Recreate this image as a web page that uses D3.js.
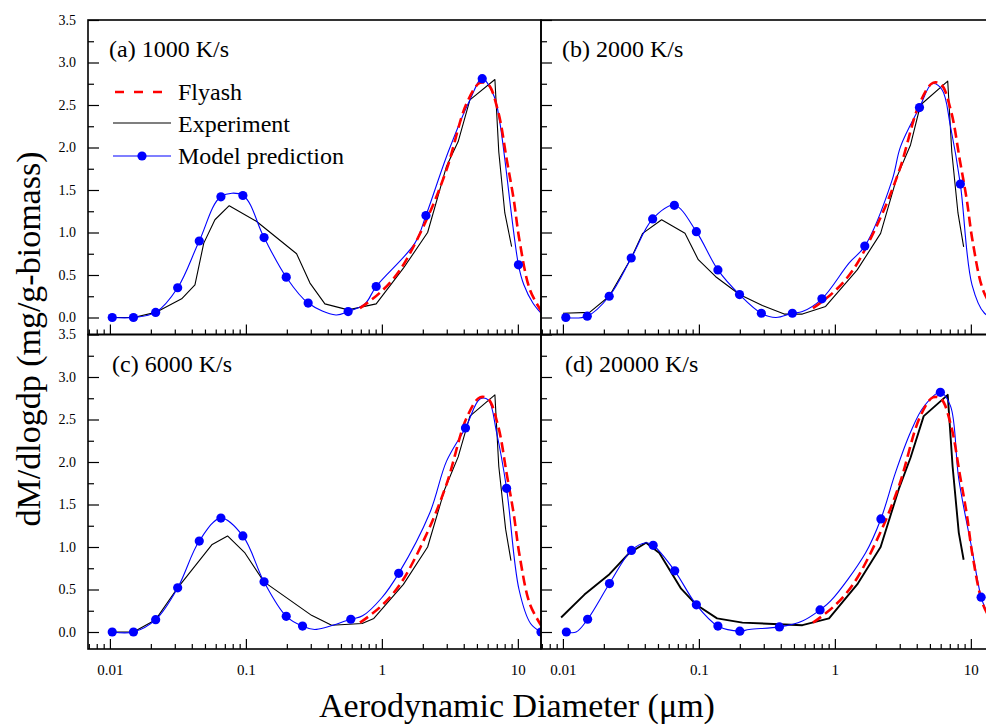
<!DOCTYPE html>
<html><head><meta charset="utf-8">
<script src="https://cdn.jsdelivr.net/npm/d3@7"></script>
<style>
body{margin:0;background:#fff;}
svg{display:block;}
text{font-family:"Liberation Serif","Times New Roman",serif;fill:#000;}
</style>
</head><body>
<svg id="c" width="986" height="724"></svg>
<script>
// ---------- data (diameter in µm, dM/dlogdp) ----------
const panelLabels = ["(a) 1000 K/s", "(b) 2000 K/s", "(c) 6000 K/s", "(d) 20000 K/s"];
const legendLabels = ["Flyash", "Experiment", "Model prediction"];
const yTicks = [0, 0.5, 1.0, 1.5, 2.0, 2.5, 3.0, 3.5];
const yMinor = [0.25, 0.75, 1.25, 1.75, 2.25, 2.75, 3.25];
const xTicks = [0.01, 0.1, 1, 10];
const xMinor = [0.007, 0.008, 0.009, 0.02, 0.03, 0.04, 0.05, 0.06, 0.07, 0.08, 0.09,
  0.2, 0.3, 0.4, 0.5, 0.6, 0.7, 0.8, 0.9, 2, 3, 4, 5, 6, 7, 8, 9];

const flyash = [[0.69,0.11],[0.966,0.29],[1.36,0.56],[2.13,1.15],[2.99,1.74],[4.2,2.52],
  [5.26,2.76],[6.06,2.74],[7.17,2.42],[8.3,1.85],[9.3,1.4],[10.3,0.9],[12.25,0.33],[14.8,0.08]];

const expA = [[0.0104,0],[0.0149,0],[0.0217,0.06],[0.0337,0.22],[0.0422,0.385],[0.049,0.875],
  [0.0592,1.15],[0.0754,1.315],[0.12,1.13],[0.236,0.75],[0.296,0.405],[0.381,0.16],[0.565,0.09],
  [0.908,0.16],[1.44,0.58],[2.17,1.0],[2.99,1.78],[3.64,2.07],[4.44,2.56],[6.78,2.8],[7.24,1.95],
  [8.02,1.23],[9.0,0.835]];
const modelA = [[0.0104,0],[0.0149,0],[0.0217,0.06],[0.0315,0.35],[0.0454,0.90],[0.0655,1.42],
  [0.095,1.435],[0.136,0.94],[0.198,0.475],[0.287,0.17],[0.459,0.03],[0.565,0.07],[0.75,0.16],
  [0.908,0.365],[1.75,0.875],[2.11,1.2],[3.08,1.95],[4.44,2.56],[5.47,2.81],[6.7,2.6],[7.38,2.29],
  [10.1,0.62],[11.07,0.385],[12.9,0.17],[14.8,0.05]];
const dotsA = [[0.0104,0],[0.0149,0],[0.0217,0.06],[0.0315,0.35],[0.0454,0.90],[0.0655,1.42],
  [0.095,1.435],[0.136,0.94],[0.198,0.475],[0.287,0.17],[0.565,0.07],[0.908,0.365],[2.11,1.2],
  [5.47,2.81],[10.1,0.62]];

const expB = [[0.01,0.05],[0.0157,0.06],[0.0219,0.25],[0.0318,0.70],[0.0386,0.99],[0.0532,1.15],
  [0.079,0.99],[0.099,0.68],[0.133,0.48],[0.199,0.27],[0.293,0.14],[0.424,0.04],[0.577,0.04],
  [0.855,0.13],[1.46,0.56],[2.17,0.99],[2.87,1.66],[3.6,2.03],[4.26,2.5],[6.76,2.78],[7.24,1.95],
  [8.04,1.23],[8.85,0.83]];
const modelB = [[0.0105,0],[0.0151,0.016],[0.0219,0.25],[0.0318,0.70],[0.0457,1.16],[0.066,1.32],
  [0.0958,1.01],[0.138,0.56],[0.199,0.27],[0.288,0.05],[0.368,0.0],[0.487,0.05],[0.577,0.07],
  [0.803,0.22],[1.27,0.64],[1.66,0.84],[2.64,1.62],[3.04,2.01],[4.19,2.47],[5.19,2.75],[6.14,2.68],
  [7.08,2.25],[8.37,1.57],[10.2,0.385],[12.6,0.05],[14.8,0.0]];
const dotsB = [[0.0105,0],[0.0151,0.016],[0.0219,0.25],[0.0318,0.70],[0.0457,1.16],[0.066,1.32],
  [0.0958,1.01],[0.138,0.56],[0.199,0.27],[0.288,0.05],[0.487,0.05],[0.803,0.22],[1.66,0.84],
  [4.19,2.47],[8.37,1.57]];

const expC = [[0.0104,0],[0.0149,0],[0.0217,0.145],[0.0315,0.52],[0.0565,1.03],[0.0733,1.13],
  [0.0984,0.93],[0.136,0.59],[0.304,0.196],[0.427,0.08],[0.716,0.10],[0.873,0.16],[1.44,0.56],
  [2.17,1.0],[2.9,1.68],[3.64,2.06],[4.44,2.54],[6.78,2.79],[7.24,1.95],[8.13,1.21],[8.9,0.84]];
const modelC = [[0.0104,0],[0.0149,0],[0.0217,0.145],[0.0315,0.52],[0.0454,1.07],[0.0655,1.34],
  [0.095,1.13],[0.136,0.59],[0.198,0.185],[0.261,0.07],[0.321,0.03],[0.591,0.15],[0.721,0.19],
  [0.995,0.40],[1.33,0.69],[2.25,1.40],[2.99,2.01],[4.12,2.40],[5.26,2.74],[6.06,2.73],[6.97,2.35],
  [8.26,1.69],[10.2,0.50],[12.4,0.10],[14.8,0]];
const dotsC = [[0.0104,0],[0.0149,0],[0.0217,0.145],[0.0315,0.52],[0.0454,1.07],[0.0655,1.34],
  [0.095,1.13],[0.136,0.59],[0.198,0.185],[0.261,0.07],[0.591,0.15],[1.33,0.69],[4.12,2.40],
  [8.26,1.69],[14.8,0]];

const expD = [[0.0097,0.17],[0.0144,0.44],[0.022,0.68],[0.0308,0.93],[0.0409,1.05],[0.0512,0.93],
  [0.074,0.51],[0.0958,0.32],[0.136,0.16],[0.209,0.11],[0.577,0.08],[0.906,0.16],[1.46,0.56],
  [2.17,1.0],[2.95,1.68],[3.6,2.05],[4.5,2.54],[6.76,2.79],[7.34,1.95],[8.15,1.17],[8.85,0.85]];
const modelD = [[0.0106,0],[0.0125,0],[0.0152,0.15],[0.022,0.57],[0.0319,0.96],[0.0409,1.05],
  [0.0461,1.02],[0.0664,0.72],[0.0958,0.32],[0.138,0.07],[0.2,0.01],[0.234,0.03],[0.391,0.06],
  [0.577,0.13],[0.778,0.26],[0.931,0.365],[1.68,0.93],[2.18,1.33],[2.79,1.875],[3.6,2.35],
  [4.5,2.65],[5.97,2.82],[7.08,2.66],[8.15,1.80],[10.2,0.97],[11.9,0.41],[12.6,0.30],[14.8,0.05]];
const dotsD = [[0.0106,0],[0.0152,0.15],[0.022,0.57],[0.0319,0.96],[0.0461,1.02],[0.0664,0.72],
  [0.0958,0.32],[0.138,0.07],[0.2,0.01],[0.391,0.06],[0.778,0.26],[2.18,1.33],[5.97,2.82],[11.9,0.41]];

// ---------- layout ----------
const svg = d3.select("#c");
const W = 453, H = 314.5, L = 88, T = 20;
const x = d3.scaleLog().domain([0.0069, 14.8]).range([0, W]);
const y = d3.scaleLinear().domain([-0.2, 3.5]).range([H, 0]);

svg.append("defs").append("clipPath").attr("id", "clip")
  .append("rect").attr("width", W).attr("height", H);

const panels = [
  {exp: expA, model: modelA, dots: dotsA, label: panelLabels[0], col: 0, row: 0},
  {exp: expB, model: modelB, dots: dotsB, label: panelLabels[1], col: 1, row: 0},
  {exp: expC, model: modelC, dots: dotsC, label: panelLabels[2], col: 0, row: 1},
  {exp: expD, model: modelD, dots: dotsD, label: panelLabels[3], col: 1, row: 1}
];

const lineSmooth = d3.line().x(d => x(d[0])).y(d => y(d[1])).curve(d3.curveCatmullRom.alpha(0.5));
const lineStraight = d3.line().x(d => x(d[0])).y(d => y(d[1]));

panels.forEach((p, i) => {
  const g = svg.append("g").attr("transform", `translate(${L + p.col * W},${T + p.row * H})`);
  const plot = g.append("g").attr("clip-path", "url(#clip)");

  plot.append("path").datum(p.exp).attr("d", lineStraight)
    .attr("fill", "none").attr("stroke", "#000")
    .attr("stroke-width", i === 3 ? 1.9 : 1.1).attr("stroke-linejoin", "round");
  plot.append("path").datum(p.model).attr("d", lineSmooth)
    .attr("fill", "none").attr("stroke", "#0000ff").attr("stroke-width", 1.1);
  plot.append("path").datum(flyash).attr("d", lineSmooth)
    .attr("fill", "none").attr("stroke", "#ff0000").attr("stroke-width", 2.6)
    .attr("stroke-dasharray", "10,5");
  plot.selectAll("circle").data(p.dots).join("circle")
    .attr("cx", d => x(d[0])).attr("cy", d => y(d[1])).attr("r", 4.6).attr("fill", "#0000ff");

  // y axis
  const yAx = d3.axisLeft(y).tickValues(yTicks).tickSize(-11).tickSizeOuter(0).tickPadding(12)
    .tickFormat(p.col === 0 ? d3.format(".1f") : () => "");
  const ya = g.append("g").call(yAx);
  const yAm = g.append("g").call(d3.axisLeft(y).tickValues(yMinor).tickSize(-6).tickSizeOuter(0).tickFormat(() => ""));
  // x axis
  const xAx = d3.axisBottom(x).tickValues(xTicks).tickSize(-10).tickSizeOuter(0).tickPadding(15)
    .tickFormat(p.row === 1 ? (d => String(d)) : () => "");
  const xa = g.append("g").attr("transform", `translate(0,${H})`).call(xAx);
  const xAm = g.append("g").attr("transform", `translate(0,${H})`)
    .call(d3.axisBottom(x).tickValues(xMinor).tickSize(-5).tickSizeOuter(0).tickFormat(() => ""));
  [ya, yAm, xa, xAm].forEach(a => {
    a.select(".domain").remove();
    a.selectAll("line").attr("stroke", "#000").attr("stroke-width", 1.2);
    a.selectAll("text").attr("font-family", "Liberation Serif, serif").attr("fill", "#111");
  });
  ya.selectAll("text").attr("font-size", 14);
  xa.selectAll("text").attr("font-size", 15);

  // frame
  g.append("rect").attr("width", W).attr("height", H)
    .attr("fill", "none").attr("stroke", "#000").attr("stroke-width", 1.6);

  // panel label
  g.append("text").attr("x", p.row === 0 ? 21 : 24).attr("y", 37)
    .attr("font-size", 24).text(p.label);
});

// legend (panel a)
const lg = svg.append("g");
const legY = [92, 123, 156];
const legTextY = [100, 132, 164];
lg.append("line").attr("x1", 115).attr("x2", 165).attr("y1", legY[0]).attr("y2", legY[0])
  .attr("stroke", "#ff0000").attr("stroke-width", 2.6).attr("stroke-dasharray", "9,10");
lg.append("line").attr("x1", 113).attr("x2", 171).attr("y1", legY[1]).attr("y2", legY[1])
  .attr("stroke", "#000").attr("stroke-width", 1.1);
lg.append("line").attr("x1", 113).attr("x2", 171).attr("y1", legY[2]).attr("y2", legY[2])
  .attr("stroke", "#0000ff").attr("stroke-width", 1.1);
lg.append("circle").attr("cx", 142).attr("cy", legY[2]).attr("r", 4.6).attr("fill", "#0000ff");
legendLabels.forEach((t, k) => {
  lg.append("text").attr("x", 178).attr("y", legTextY[k]).attr("font-size", 24).text(t);
});

// axis titles
svg.append("text").attr("x", 517).attr("y", 717).attr("text-anchor", "middle")
  .attr("font-size", 34).text("Aerodynamic Diameter (μm)");
svg.append("text").attr("transform", "translate(40,339) rotate(-90)").attr("text-anchor", "middle")
  .attr("font-size", 34).text("dM/dlogdp (mg/g-biomass)");
</script>
</body></html>
